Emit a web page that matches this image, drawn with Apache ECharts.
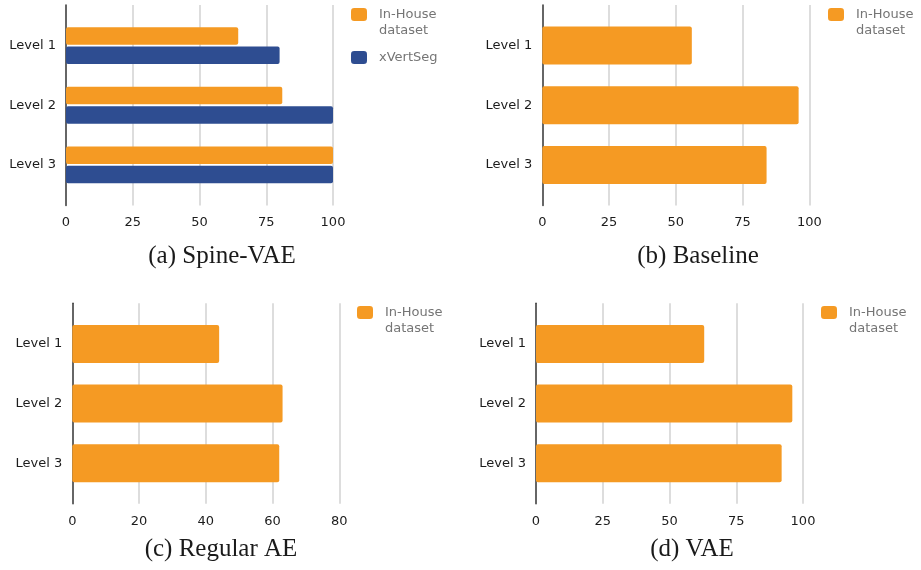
<!DOCTYPE html>
<html>
<head>
<meta charset="utf-8">
<style>
  html, body { margin: 0; padding: 0; background: #ffffff; }
  #chart { width: 921px; height: 570px; }
</style>
<script src="https://cdn.jsdelivr.net/npm/echarts@6/dist/echarts.min.js"></script>
</head>
<body>
<div id="chart"></div>
<script>
// Categories
const levels = ['Level 1', 'Level 2', 'Level 3'];

// Scores per level (percent)
const spineVaeInHouse = [64.5, 81, 100];
const spineVaeXVertSeg = [80, 100, 100];
const baselineInHouse = [56, 96, 84];
const regularAeInHouse = [44, 63, 62];
const vaeInHouse = [63, 96, 92];

// Value-axis ranges (max, tick step)
const axisMax100 = 100, axisStep100 = 25;
const axisMax80 = 80, axisStep80 = 20;

// Panel captions
const captions = ['(a) Spine-VAE', '(b) Baseline', '(c) Regular AE', '(d) VAE'];

// Series names
const IN_HOUSE = 'In-House dataset';
const XVERTSEG = 'xVertSeg';

const ORANGE = '#F59A23';
const BLUE = '#2E4D91';
const SANS = 'DejaVu Sans';
const SERIF = 'Liberation Serif';

const panels = [
  { left: 66,    top: 5,     max: axisMax100, step: axisStep100, caption: captions[0], capX: 222, capY: 256,
    series: [{ name: IN_HOUSE, data: spineVaeInHouse, color: ORANGE }, { name: XVERTSEG, data: spineVaeXVertSeg, color: BLUE }],
    legendLeft: 351, iconTop: 8 },
  { left: 542.3, top: 5,     max: axisMax100, step: axisStep100, caption: captions[1], capX: 698, capY: 256,
    series: [{ name: IN_HOUSE, data: baselineInHouse, color: ORANGE }],
    legendLeft: 828, iconTop: 8 },
  { left: 72.3,  top: 303.3, max: axisMax80,  step: axisStep80,  caption: captions[2], capX: 221, capY: 549,
    series: [{ name: IN_HOUSE, data: regularAeInHouse, color: ORANGE }],
    legendLeft: 357, iconTop: 306 },
  { left: 536,   top: 303.3, max: axisMax100, step: axisStep100, caption: captions[3], capX: 692, capY: 549,
    series: [{ name: IN_HOUSE, data: vaeInHouse, color: ORANGE }],
    legendLeft: 821, iconTop: 306 }
];

const PLOT_W = 267;      // width of the value range
const FRAME_H = 200.5;   // height of the gridline/axis frame
const BAND_INSET = 10.8; // bars sit inside the frame with this inset at top and bottom

const grid = [], xAxis = [], yAxis = [], series = [], legend = [], graphic = [];

// Two-line legend label whose first line sits level with the swatch:
// a leading blank line keeps the vertically centred block offset by one line.
function legendLabel(name) {
  const parts = name.split(' ');
  return parts.length > 1 ? ' \n' + parts.join('\n') : name;
}

panels.forEach((p, i) => {
  const fi = 2 * i, bi = 2 * i + 1;
  // frame grid: gridlines, vertical axis line, tick labels
  grid.push({ left: p.left, top: p.top, width: PLOT_W, height: FRAME_H });
  // bar grid: categories and bars
  grid.push({ left: p.left, top: p.top + BAND_INSET, width: PLOT_W, height: FRAME_H - 2 * BAND_INSET });

  xAxis.push({
    gridIndex: fi, type: 'value', min: 0, max: p.max, interval: p.step,
    axisLine: { show: false }, axisTick: { show: false },
    axisLabel: { margin: 11, color: '#1c1c1c', fontFamily: SANS, fontSize: 13 },
    splitLine: { show: true, showMinLine: false, lineStyle: { color: '#d2d2d2', width: 1.5 } }
  });
  xAxis.push({ gridIndex: bi, type: 'value', min: 0, max: p.max, show: false });

  yAxis.push({
    gridIndex: fi, type: 'value', min: 0, max: 1,
    axisLine: { show: true, onZero: false, lineStyle: { color: '#333', width: 1.5 } },
    axisTick: { show: false }, axisLabel: { show: false }, splitLine: { show: false }
  });
  yAxis.push({
    gridIndex: bi, type: 'category', data: levels, inverse: true,
    axisLine: { show: false }, axisTick: { show: false },
    axisLabel: { margin: 10, color: '#1c1c1c', fontFamily: SANS, fontSize: 13 }
  });

  const two = p.series.length > 1;
  p.series.forEach(s => {
    series.push({
      type: 'bar', name: s.name, data: s.data,
      xAxisIndex: bi, yAxisIndex: bi,
      barWidth: two ? 17.6 : 38, barGap: '10%',
      itemStyle: { color: s.color, borderRadius: 2 },
      emphasis: { disabled: true }
    });
  });

  legend.push({
    orient: 'vertical', left: p.legendLeft, top: p.iconTop - 17.5, padding: 0,
    itemWidth: 16, itemHeight: 13, itemGap: 11, icon: 'roundRect',
    selectedMode: false,
    textStyle: { color: '#757575', fontFamily: SANS, fontSize: 13, lineHeight: 16, padding: [0, 0, 0, 7] },
    formatter: legendLabel,
    data: p.series.map(s => s.name)
  });

  graphic.push({
    type: 'text', x: p.capX, y: p.capY,
    style: { text: p.caption, align: 'center', verticalAlign: 'middle', fill: '#1a1a1a', font: '25px "' + SERIF + '"' }
  });
});

const chart = echarts.init(document.getElementById('chart'), null, { renderer: 'canvas' });
chart.setOption({
  animation: false,
  backgroundColor: '#ffffff',
  grid, xAxis, yAxis, series, legend, graphic
});
</script>
</body>
</html>
